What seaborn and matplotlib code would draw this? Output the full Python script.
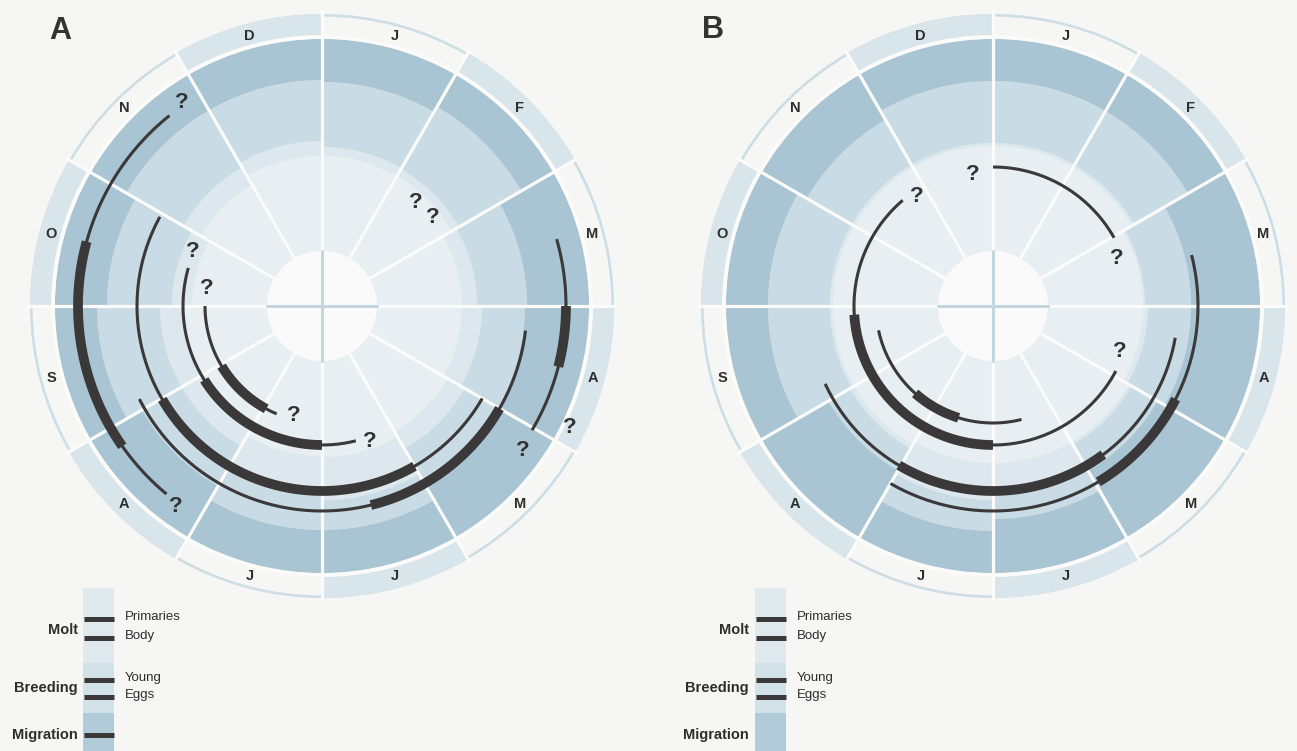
import numpy as np
import pandas as pd
import matplotlib
matplotlib.use("Agg")
import matplotlib.pyplot as plt
from matplotlib.patches import Wedge, Circle, Rectangle
import seaborn as sns

months = ["J", "F", "M", "A", "M", "J", "J", "A", "S", "O", "N", "D"]

# shading boundaries per month (Jan..Dec): very light -> light -> medium -> dark
a_light = [150, 150, 140, 140, 145, 151, 150, 140, 140, 130, 140, 150]
a_mid = [159, 158, 155, 160, 165, 194, 190, 162, 162, 150, 160, 165]
a_dark = [224, 230, 205, 203, 208, 224, 224, 208, 225, 215, 226, 226]
b_light = [160, 160, 150, 150, 157, 157, 157, 160, 160, 160, 160, 160]
b_mid = [163, 163, 152, 155, 160, 186, 194, 165, 163, 163, 163, 163]
b_dark = [225, 225, 198, 198, 190, 213, 225, 190, 225, 225, 215, 225]

# arcs, in months from 1 January: track, start, end, thick start, thick end
a_track = ["Primaries", "Body", "Young", "Eggs", "Migration", "Migration"]
a_start = [6.76, 5.53, 4.00, 3.23, 2.47, 7.32]
a_end = [9.00, 9.53, 9.96, 8.10, 4.02, 10.71]
a_thick0 = [6.95, 6.00, 5.00, 4.00, 3.00, 7.83]
a_thick1 = [7.97, 7.93, 7.99, 5.54, 3.48, 9.51]

b_track = ["Primaries", "Body", "Body", "Young", "Eggs"]
b_start = [5.53, 0.00, 3.93, 3.33, 2.52]
b_end = [8.60, 2.02, 10.65, 8.17, 7.00]
b_thick0 = [6.57, np.nan, 6.00, 4.78, 3.90]
b_thick1 = [7.39, np.nan, 8.88, 7.02, 4.97]

# question marks: month position and radius
a_q_t = [10.85, 7.20, 1.41, 1.72, 9.76, 9.29, 6.49, 5.35, 4.19, 3.87]
a_q_r = [247, 248, 140, 142, 140, 117, 113, 144, 247, 276]
b_q_t = [11.71, 10.84, 2.30, 3.66]
b_q_r = [133, 133, 133, 135]

legend_groups = ["Molt", "Breeding", "Migration"]
legend_items = ["Primaries", "Body", "Young", "Eggs"]

TRACK_R = {"Primaries": 117, "Body": 139, "Young": 185, "Eggs": 205, "Migration": 244}
LEVELS = ["#e7eff2", "#dce8ed", "#c9dbe4", "#a9c4d2"]
BG = "#f6f6f4"
ARC = "#3a3838"
TXT = "#2e2e2e"

sns.set_theme(style="white")
plt.rcParams["font.family"] = ["Liberation Sans", "DejaVu Sans"]

fig = plt.figure(figsize=(12.97, 7.51), dpi=100, facecolor=BG)
ax = fig.add_axes([0, 0, 1, 1])
ax.set_facecolor(BG)


def polar(cx, cy, r, t):
    th = np.deg2rad(30 * np.asarray(t) - 90)
    return cx + r * np.cos(th), cy + r * np.sin(th)


def panel(cx, cy, light, mid, dark, track, start, end, th0, th1, q_t, q_r, tag):
    for m in range(12):
        t1, t2 = 30 * m - 90, 30 * m - 60
        edges = [55, light[m], mid[m], dark[m], 267]
        for k in range(4):
            if edges[k + 1] > edges[k]:
                ax.add_patch(Wedge((cx, cy), edges[k + 1], t1, t2, width=edges[k + 1] - edges[k],
                                   facecolor=LEVELS[k], edgecolor="none"))
        ax.add_patch(Wedge((cx, cy), 292, t1, t2, width=2.6, facecolor="#cddde6", edgecolor="none"))
        if m % 2 == 1:
            ax.add_patch(Wedge((cx, cy), 292, t1, t2, width=21, facecolor="#d8e5eb", edgecolor="none"))
        x, y = polar(cx, cy, 280, m + 0.5)
        ax.text(x, y, months[m], ha="center", va="center", fontsize=10.5, fontweight="bold", color=TXT)
    # white month separators
    for k in range(12):
        xs, ys = polar(cx, cy, np.array([55, 296]), k)
        ax.plot(xs, ys, color="#fbfbfa", lw=2.3, solid_capstyle="butt")
    ax.add_patch(Circle((cx, cy), 269, fill=False, edgecolor="#fbfbfa", lw=2.5))
    ax.add_patch(Circle((cx, cy), 55, facecolor="#fafafa", edgecolor="none"))
    ax.plot([cx - 55, cx + 55], [cy, cy], color="#c3d6df", lw=2.2)
    ax.plot([cx, cx], [cy - 55, cy + 55], color="#c3d6df", lw=2.2)

    rows = []
    for i in range(len(track)):
        r = TRACK_R[track[i]]
        for kind, a, b in (("thin", start[i], end[i]), ("thick", th0[i], th1[i])):
            if np.isnan(a):
                continue
            tt = np.linspace(a, b, 200)
            x, y = polar(cx, cy, r, tt)
            rows.append(pd.DataFrame({"x": x, "y": y, "seg": f"{tag}{i}{kind}", "kind": kind}))
    df = pd.concat(rows, ignore_index=True)
    sns.lineplot(data=df, x="x", y="y", units="seg", estimator=None, sort=False,
                 size="kind", sizes={"thin": 2.2, "thick": 7.0}, color=ARC,
                 legend=False, ax=ax, solid_capstyle="butt")

    for t, r in zip(q_t, q_r):
        x, y = polar(cx, cy, r, t)
        ax.text(x, y, "?", ha="center", va="center", fontsize=16, fontweight="bold", color="#333")


def legend(x0, lx, show_mig):
    ax.add_patch(Rectangle((x0, 588), 31, 75, facecolor="#e0eaee", edgecolor="none"))
    ax.add_patch(Rectangle((x0, 663), 31, 50, facecolor="#d1e1e8", edgecolor="none"))
    ax.add_patch(Rectangle((x0, 713), 31, 40, facecolor="#b2cbd8", edgecolor="none"))
    bar_y = [619, 638, 680, 697]
    for y, name in zip(bar_y, legend_items):
        ax.plot([x0 + 1, x0 + 31], [y, y], color=ARC, lw=3.6, solid_capstyle="butt")
        ax.text(x0 + 42, y - 2, name, ha="left", va="center", fontsize=9.5, color=TXT)
    if show_mig:
        ax.plot([x0 + 1, x0 + 31], [735, 735], color=ARC, lw=3.6, solid_capstyle="butt")
    for y, name in zip([630, 688, 735], legend_groups):
        ax.text(lx, y, name, ha="right", va="center", fontsize=10.5, fontweight="bold", color=TXT)


panel(322, 306, a_light, a_mid, a_dark, a_track, a_start, a_end, a_thick0, a_thick1, a_q_t, a_q_r, "a")
panel(993, 306, b_light, b_mid, b_dark, b_track, b_start, b_end, b_thick0, b_thick1, b_q_t, b_q_r, "b")
legend(83, 78, True)
legend(755, 749, False)

ax.text(60, 31, "A", ha="center", va="center", fontsize=22, fontweight="bold", color="#333")
ax.text(713, 30, "B", ha="center", va="center", fontsize=22, fontweight="bold", color="#333")

ax.set_xlim(0, 1297)
ax.set_ylim(751, 0)
ax.axis("off")
fig.savefig("out.png", dpi=100, facecolor=BG)
